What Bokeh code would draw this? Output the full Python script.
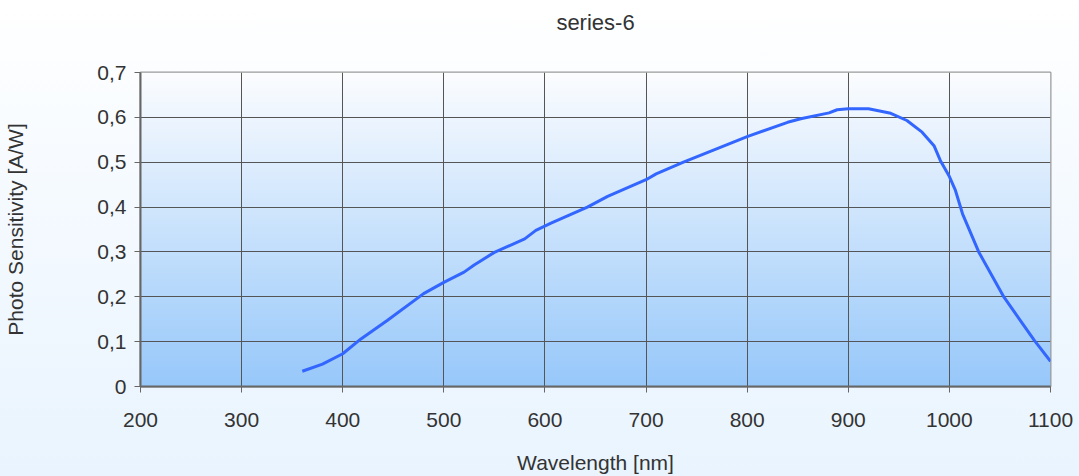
import numpy as np
from bokeh.plotting import figure
from bokeh.models import FixedTicker, Range1d, LinearAxis
from bokeh.embed import file_html
from bokeh.resources import INLINE

title_text = "series-6"
x_label = "Wavelength [nm]"
y_label = "Photo Sensitivity [A/W]"

wavelength = [360, 380, 400, 418, 444, 480, 500, 520, 530, 550, 580, 591, 606, 642,
              662, 700, 710, 737, 800, 840, 853, 881, 889, 900, 920, 942, 958, 973,
              985, 991, 1000, 1006, 1013, 1029, 1054, 1084, 1100]
sensitivity = [0.034, 0.050, 0.073, 0.106, 0.147, 0.207, 0.232, 0.255, 0.271, 0.299,
               0.329, 0.348, 0.364, 0.400, 0.424, 0.461, 0.474, 0.500, 0.557, 0.589,
               0.597, 0.610, 0.617, 0.619, 0.619, 0.609, 0.593, 0.567, 0.536, 0.504,
               0.468, 0.437, 0.385, 0.300, 0.199, 0.103, 0.056]

x_ticks = [200, 300, 400, 500, 600, 700, 800, 900, 1000, 1100]
y_ticks = [0, 0.1, 0.2, 0.3, 0.4, 0.5, 0.6, 0.7]
y_tick_labels = ["0", "0,1", "0,2", "0,3", "0,4", "0,5", "0,6", "0,7"]

page_bg = "linear-gradient(to bottom, #ffffff 0%, #f5faff 40%, #e9f4fe 100%)"

p = figure(width=1079, height=476, output_backend="svg", toolbar_location=None,
           x_range=Range1d(200, 1100), y_range=Range1d(0, 0.7),
           min_border_left=140, min_border_right=29, min_border_top=72, min_border_bottom=90,
           styles={"background": page_bg})
p.border_fill_color = None
p.background_fill_color = None
p.outline_line_color = "#9a9a9a"
p.outline_line_width = 2

xax = p.below[0]
yax = p.left[0]

# vertical gradient for plot area background
n = 200
top = np.array([252, 253, 255], dtype=float)
bot = np.array([151, 200, 250], dtype=float)
img = np.zeros((n, 1), dtype=np.uint32)
view = img.view(dtype=np.uint8).reshape((n, 1, 4))
for i in range(n):
    t = i / (n - 1)  # row 0 is bottom
    c = bot * (1 - t) + top * t
    view[i, 0, 0] = int(c[0]); view[i, 0, 1] = int(c[1]); view[i, 0, 2] = int(c[2]); view[i, 0, 3] = 255
p.image_rgba(image=[img], x=x_ticks[0], y=y_ticks[0], dw=x_ticks[-1] - x_ticks[0], dh=y_ticks[-1] - y_ticks[0], level="image")

p.line(wavelength, sensitivity, line_color="#3366ff", line_width=3)

# chart title drawn as the label of a bare axis above the plot
title_axis = LinearAxis(ticker=FixedTicker(ticks=[]), axis_label=title_text,
                        axis_line_color=None, major_tick_line_color=None, minor_tick_line_color=None,
                        major_tick_out=0, major_tick_in=0, major_label_standoff=0,
                        axis_label_standoff=38, axis_label_text_font="Liberation Sans",
                        axis_label_text_font_size="22px", axis_label_text_font_style="normal",
                        axis_label_text_color="#333333")
p.add_layout(title_axis, "above")

for ax in (xax, yax):
    ax.major_label_text_font = "Liberation Sans"
    ax.major_label_text_font_size = "21px"
    ax.major_label_text_color = "#333333"
    ax.axis_label_text_font = "Liberation Sans"
    ax.axis_label_text_font_size = "21px"
    ax.axis_label_text_font_style = "normal"
    ax.axis_label_text_color = "#333333"
    ax.minor_tick_line_color = None
    ax.major_tick_in = 0
    ax.major_tick_out = 6
    ax.major_tick_line_color = "#666666"
    ax.axis_line_color = "#666666"
    ax.axis_line_width = 2

xax.ticker = FixedTicker(ticks=x_ticks)
yax.ticker = FixedTicker(ticks=y_ticks)
yax.major_label_overrides = {t: l for t, l in zip(y_ticks, y_tick_labels)}
xax.axis_label = x_label
yax.axis_label = y_label
xax.major_label_standoff = 20
yax.major_label_standoff = 8
xax.axis_label_standoff = 21
yax.axis_label_standoff = 67

p.xgrid.ticker = FixedTicker(ticks=x_ticks)
p.ygrid.ticker = FixedTicker(ticks=y_ticks)
p.xgrid.grid_line_color = "#555555"
p.ygrid.grid_line_color = "#555555"
p.xgrid.grid_line_width = 1
p.ygrid.grid_line_width = 1

html = file_html(p, INLINE)
html = html.replace("<body>", '<body style="background: ' + page_bg + ';">', 1)
open("out.html", "w").write(html)
